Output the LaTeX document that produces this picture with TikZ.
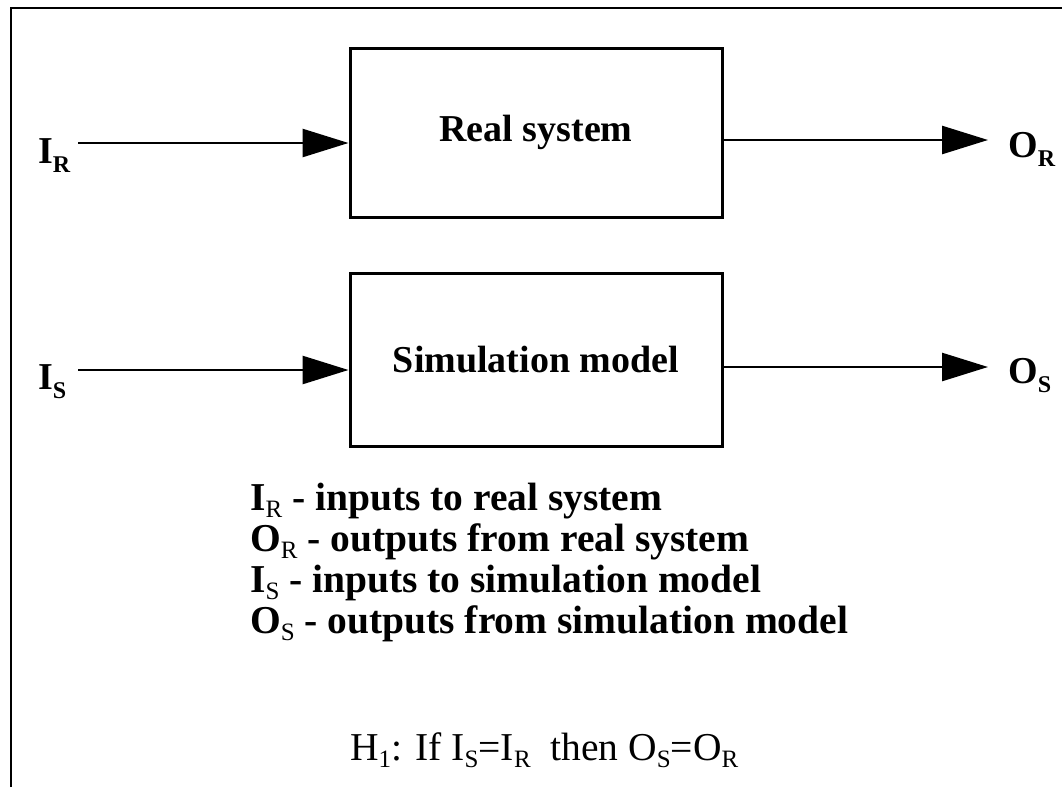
\documentclass[tikz,border=0pt]{standalone}
\usepackage{fontspec}
\setmainfont{Liberation Serif}
\usetikzlibrary{arrows.meta}
\newcommand\bsub[1]{\raisebox{-9pt}{\fontsize{24}{24}\selectfont\bfseries #1}}
\newcommand\rsub[1]{\raisebox{-7pt}{\fontsize{25}{25}\selectfont\mdseries #1}}
\begin{document}
\begin{tikzpicture}[x=1pt,y=-1pt,
  boxnode/.style={draw, line width=3pt, inner sep=0pt, font=\fontsize{38}{38}\selectfont\bfseries},
  flow/.style={line width=2.6pt, -{Triangle[length=46pt,width=28pt]}},
  lbl/.style={anchor=base west, inner sep=0pt, font=\fontsize{38}{38}\selectfont\bfseries},
  legend/.style={anchor=base west, inner sep=0pt, font=\fontsize{39.5}{39.5}\selectfont\bfseries},
  hyp/.style={anchor=base west, inner sep=0pt, font=\fontsize{39.5}{39.5}\selectfont}]
\useasboundingbox (0,0) rectangle (1062,787);
% frame (only left and top edges visible)
\draw[line width=2pt] (11,787) -- (11,8) -- (1062,8);
% boxes
\node[boxnode, minimum width=372pt, minimum height=169pt] (rs) at (536,132.5) {Real system};
\node[boxnode, minimum width=372pt, minimum height=173pt] (sm) at (536,359.5) {Simulation model};
% end points
\coordinate (irs) at (78,143);
\coordinate (ore) at (988,140);
\coordinate (iss) at (78,370);
\coordinate (ose) at (988,367);
% arrows
\draw[flow] (irs) -- (irs -| rs.west);
\draw[flow] (ore -| rs.east) -- (ore);
\draw[flow] (iss) -- (iss -| sm.west);
\draw[flow] (ose -| sm.east) -- (ose);
% labels
\node[lbl] (lir) at (38,163) {I\bsub{R}};
\node[lbl] (lor) at (1008,157) {O\bsub{R}};
\node[lbl] (lis) at (38,389) {I\bsub{S}};
\node[lbl] (los) at (1008,383) {O\bsub{S}};
% legend
\node[legend] (l1) at (250,510) {I\rsub{R} - inputs to real system};
\node[legend] (l2) at (250,551) {O\rsub{R} - outputs from real system};
\node[legend] (l3) at (250,592) {I\rsub{S} - inputs to simulation model};
\node[legend] (l4) at (250,633) {O\rsub{S} - outputs from simulation model};
% hypothesis
\node[hyp] (h1) at (350,760) {H\rsub{1}: If I\rsub{S}=I\rsub{R}\ \ then O\rsub{S}=O\rsub{R}};
\end{tikzpicture}
\end{document}
